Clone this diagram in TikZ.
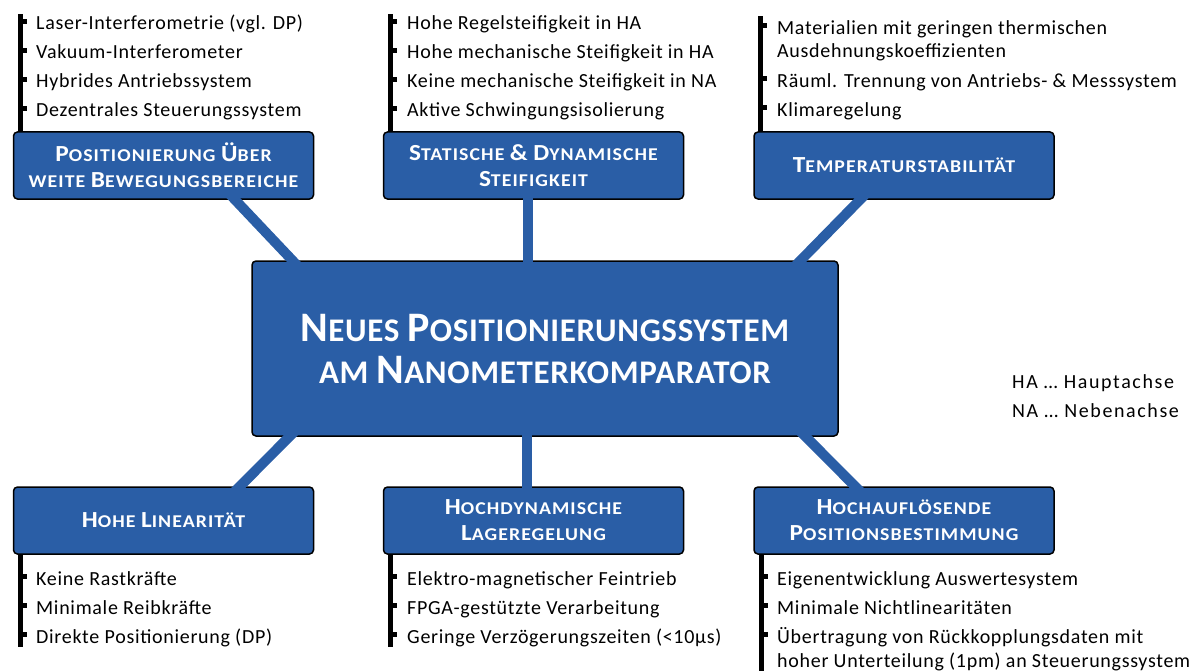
\documentclass[tikz,border=0pt]{standalone}
\usepackage{fontspec}
\setmainfont{Carlito}[LetterSpace=3.5]
\newfontfamily\titlefont{Carlito}[LetterSpace=6, FakeStretch=1.1]
\newfontfamily\hubfont{Carlito}[LetterSpace=2]
\newfontfamily\notefont{Carlito}[LetterSpace=8]
\usetikzlibrary{calc}
\definecolor{topicblue}{RGB}{42,94,166}
% large initial letters for the hand-made small caps
\newcommand\Kap[1]{{\fontsize{23}{25}\selectfont #1}}
\newcommand\KapL[1]{{\fontsize{42}{42}\selectfont #1}}

\begin{document}
\begin{tikzpicture}[x=1pt,y=-1pt,
  topic/.style={draw=black, line width=1.5pt, fill=topicblue, rounded corners=4pt,
    text=white, font=\titlefont\bfseries\fontsize{18}{26}\selectfont, align=center,
    minimum width=300pt, minimum height=67pt, inner sep=0pt},
  hub/.style={topic, font=\hubfont\bfseries\fontsize{33}{42}\selectfont,
    minimum width=586pt, minimum height=175pt},
  link/.style={draw=topicblue, line width=10pt},
  item/.style={anchor=base west, inner sep=0pt, font=\fontsize{20}{24}\selectfont},
  note/.style={item, font=\notefont\fontsize{20}{24}\selectfont},
  bar/.style={fill=black}]
\useasboundingbox (0,0) rectangle (1201,671);

% topic boxes
\node[hub] (hub) at (545,348.5)
  {\KapL{N}EUES \KapL{P}OSITIONIERUNGSSYSTEM\\AM \KapL{N}ANOMETERKOMPARATOR};
\node[topic] (tl) at (163.5,165.5) {\Kap{P}OSITIONIERUNG \Kap{Ü}BER\\WEITE \Kap{B}EWEGUNGSBEREICHE};
\node[topic] (tm) at (533.5,165.5) {\Kap{S}TATISCHE \Kap{\&} \Kap{D}YNAMISCHE\\\Kap{S}TEIFIGKEIT};
\node[topic] (tr) at (904,165.5) {\Kap{T}EMPERATURSTABILITÄT};
\node[topic] (bl) at (163.5,520.5) {\Kap{H}OHE \Kap{L}INEARITÄT};
\node[topic] (bm) at (533.5,520.5) {\Kap{H}OCHDYNAMISCHE\\\Kap{L}AGEREGELUNG};
\node[topic] (br) at (904,520.5) {\Kap{H}OCHAUFLÖSENDE\\\Kap{P}OSITIONSBESTIMMUNG};

% connectors, running a little into both boxes to cover the borders
\coordinate (tlA) at ([xshift=71.5pt]tl.south);
\coordinate (tlB) at ([xshift=41pt]hub.north west);
\coordinate (trA) at ([xshift=-44pt]tr.south);
\coordinate (trB) at ([xshift=-38pt]hub.north east);
\coordinate (blA) at ([xshift=38pt]hub.south west);
\coordinate (blB) at ([xshift=76.5pt]bl.north);
\coordinate (brA) at ([xshift=-33pt]hub.south east);
\coordinate (brB) at ([xshift=-49pt]br.north);
\coordinate (tmA) at ([xshift=-5.5pt]tm.south);
\coordinate (tmB) at ([xshift=-17pt]hub.north);
\coordinate (bmA) at ([xshift=-18pt]hub.south);
\coordinate (bmB) at ([xshift=-6.5pt]bm.north);
\foreach \a/\b in {tlA/tlB, trA/trB, blA/blB, brA/brB}
  \draw[link] ($(\a)!-8pt!(\b)$) -- ($(\b)!-8pt!(\a)$);
\foreach \a/\b in {tmA/tmB, bmA/bmB}
  \draw[link] ($(\a)!-3pt!(\b)$) -- ($(\b)!-3pt!(\a)$);

% list: positioning
\fill[bar] (18,14) rectangle (23,132);
\foreach \y in {30,59,88,117} \fill[bar] (23,\y-11) rectangle (27,\y-6);
\node[item] (tl1) at (36,30) {Laser-Interferometrie (vgl. DP)};
\node[item] (tl2) at (36,59) {Vakuum-Interferometer};
\node[item] (tl3) at (36,88) {Hybrides Antriebssystem};
\node[item] (tl4) at (36,117) {Dezentrales Steuerungssystem};

% list: stiffness
\fill[bar] (388,14) rectangle (393,132);
\foreach \y in {30,59,88,117} \fill[bar] (393,\y-11) rectangle (397,\y-6);
\node[item] (tm1) at (407,30) {Hohe Regelsteifigkeit in HA};
\node[item] (tm2) at (407,59) {Hohe mechanische Steifigkeit in HA};
\node[item] (tm3) at (407,88) {Keine mechanische Steifigkeit in NA};
\node[item] (tm4) at (407,117) {Aktive Schwingungsisolierung};

% list: temperature
\fill[bar] (758,16) rectangle (763,132);
\foreach \y in {35,88,117} \fill[bar] (763,\y-12) rectangle (767,\y-7);
\node[item] (tr1) at (777,35) {Materialien mit geringen thermischen};
\node[item] (tr1b) at (777,58) {Ausdehnungskoeffizienten};
\node[item] (tr2) at (777,88) {Räuml. Trennung von Antriebs- \& Messsystem};
\node[item] (tr3) at (777,117) {Klimaregelung};

% list: linearity
\fill[bar] (18,554) rectangle (23,647);
\foreach \y in {585,614,643} \fill[bar] (23,\y-11) rectangle (27,\y-6);
\node[item] (bl1) at (36,585) {Keine Rastkräfte};
\node[item] (bl2) at (36,614) {Minimale Reibkräfte};
\node[item] (bl3) at (36,643) {Direkte Positionierung (DP)};

% list: control
\fill[bar] (388,554) rectangle (393,647);
\foreach \y in {585,614,643} \fill[bar] (393,\y-11) rectangle (397,\y-6);
\node[item] (bm1) at (407,585) {Elektro-magnetischer Feintrieb};
\node[item] (bm2) at (407,614) {FPGA-gestützte Verarbeitung};
\node[item] (bm3) at (407,643) {Geringe Verzögerungszeiten (<10µs)};

% list: position measurement
\fill[bar] (759,554) rectangle (764,671);
\foreach \y in {585,614,643} \fill[bar] (764,\y-11) rectangle (768,\y-6);
\node[item] (br1) at (777,585) {Eigenentwicklung Auswertesystem};
\node[item] (br2) at (777,614) {Minimale Nichtlinearitäten};
\node[item] (br3) at (777,643) {Übertragung von Rückkopplungsdaten mit};
\node[item] (br3b) at (777,667) {hoher Unterteilung (1pm) an Steuerungssystem};

% abbreviations
\node[note] (ha) at (1012,388) {HA … Hauptachse};
\node[note] (na) at (1012,417) {NA … Nebenachse};
\end{tikzpicture}
\end{document}
